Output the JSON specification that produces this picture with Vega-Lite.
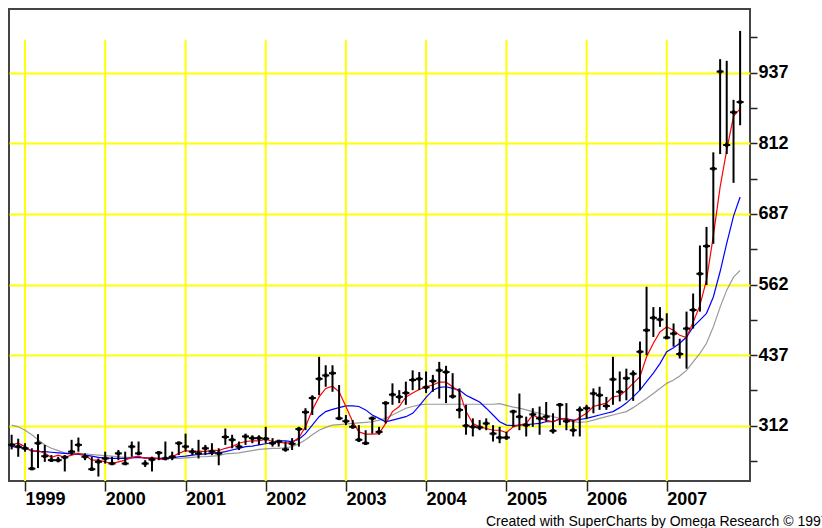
{
  "$schema": "https://vega.github.io/schema/vega-lite/v6.json",
  "width": 741,
  "height": 472,
  "autosize": "none",
  "padding": {"left": 9, "top": 9, "right": 72, "bottom": 47},
  "background": "white",
  "config": {
    "view": {"stroke": "#444444", "strokeWidth": 2},
    "font": "Liberation Sans"
  },
  "title": {"text": "Created with SuperCharts by Omega Research © 1997", "orient": "bottom", "anchor": "start", "frame": "group", "offset": 18, "dx": 477, "fontSize": 14, "fontWeight": "normal", "font": "Liberation Sans", "color": "#000000", "baseline": "alphabetic"},
  "datasets": {
    "years": [
      {"date": "1999-01-01"}, {"date": "2000-01-01"}, {"date": "2001-01-01"}, {"date": "2002-01-01"}, {"date": "2003-01-01"},
      {"date": "2004-01-01"}, {"date": "2005-01-01"}, {"date": "2006-01-01"}, {"date": "2007-01-01"}
    ],
    "bars": [
      {"date": "1998-11-01", "high": 296, "low": 270, "close": 278, "red": 278, "blue": 275, "gray": 313},
      {"date": "1998-12-01", "high": 289, "low": 257, "close": 275, "red": 281, "blue": 274, "gray": 310},
      {"date": "1999-01-01", "high": 281, "low": 266, "close": 272, "red": 275, "blue": 272, "gray": 304},
      {"date": "1999-02-01", "high": 272, "low": 234, "close": 236, "red": 266, "blue": 268, "gray": 296},
      {"date": "1999-03-01", "high": 297, "low": 237, "close": 281, "red": 268, "blue": 266, "gray": 287},
      {"date": "1999-04-01", "high": 278, "low": 248, "close": 258, "red": 263, "blue": 266, "gray": 278},
      {"date": "1999-05-01", "high": 260, "low": 248, "close": 251, "red": 256, "blue": 265, "gray": 272},
      {"date": "1999-06-01", "high": 257, "low": 247, "close": 251, "red": 260, "blue": 264, "gray": 268},
      {"date": "1999-07-01", "high": 260, "low": 231, "close": 256, "red": 256, "blue": 263, "gray": 264},
      {"date": "1999-08-01", "high": 287, "low": 260, "close": 266, "red": 260, "blue": 262, "gray": 263},
      {"date": "1999-09-01", "high": 291, "low": 266, "close": 278, "red": 263, "blue": 261, "gray": 263},
      {"date": "1999-10-01", "high": 263, "low": 251, "close": 257, "red": 260, "blue": 260, "gray": 262},
      {"date": "1999-11-01", "high": 257, "low": 234, "close": 235, "red": 251, "blue": 258, "gray": 261},
      {"date": "1999-12-01", "high": 254, "low": 222, "close": 248, "red": 251, "blue": 256, "gray": 260},
      {"date": "2000-01-01", "high": 266, "low": 245, "close": 254, "red": 248, "blue": 255, "gray": 259},
      {"date": "2000-02-01", "high": 257, "low": 243, "close": 245, "red": 245, "blue": 254, "gray": 258},
      {"date": "2000-03-01", "high": 269, "low": 251, "close": 263, "red": 248, "blue": 254, "gray": 257},
      {"date": "2000-04-01", "high": 266, "low": 243, "close": 245, "red": 251, "blue": 254, "gray": 256},
      {"date": "2000-05-01", "high": 284, "low": 257, "close": 275, "red": 256, "blue": 255, "gray": 256},
      {"date": "2000-06-01", "high": 284, "low": 260, "close": 263, "red": 258, "blue": 256, "gray": 256},
      {"date": "2000-07-01", "high": 251, "low": 239, "close": 245, "red": 254, "blue": 255, "gray": 255},
      {"date": "2000-08-01", "high": 257, "low": 231, "close": 252, "red": 256, "blue": 254, "gray": 254},
      {"date": "2000-09-01", "high": 266, "low": 251, "close": 264, "red": 253, "blue": 254, "gray": 254},
      {"date": "2000-10-01", "high": 284, "low": 251, "close": 254, "red": 253, "blue": 254, "gray": 254},
      {"date": "2000-11-01", "high": 266, "low": 251, "close": 257, "red": 257, "blue": 255, "gray": 254},
      {"date": "2000-12-01", "high": 284, "low": 260, "close": 281, "red": 263, "blue": 257, "gray": 254},
      {"date": "2001-01-01", "high": 298, "low": 266, "close": 275, "red": 268, "blue": 258, "gray": 255},
      {"date": "2001-02-01", "high": 272, "low": 260, "close": 266, "red": 266, "blue": 260, "gray": 256},
      {"date": "2001-03-01", "high": 287, "low": 254, "close": 263, "red": 267, "blue": 261, "gray": 257},
      {"date": "2001-04-01", "high": 278, "low": 260, "close": 272, "red": 266, "blue": 262, "gray": 257},
      {"date": "2001-05-01", "high": 281, "low": 260, "close": 266, "red": 269, "blue": 263, "gray": 258},
      {"date": "2001-06-01", "high": 272, "low": 242, "close": 263, "red": 268, "blue": 264, "gray": 259},
      {"date": "2001-07-01", "high": 307, "low": 278, "close": 292, "red": 272, "blue": 266, "gray": 262},
      {"date": "2001-08-01", "high": 296, "low": 272, "close": 287, "red": 275, "blue": 269, "gray": 263},
      {"date": "2001-09-01", "high": 284, "low": 269, "close": 275, "red": 281, "blue": 272, "gray": 264},
      {"date": "2001-10-01", "high": 298, "low": 278, "close": 293, "red": 284, "blue": 275, "gray": 266},
      {"date": "2001-11-01", "high": 295, "low": 281, "close": 290, "red": 285, "blue": 276, "gray": 268},
      {"date": "2001-12-01", "high": 295, "low": 278, "close": 290, "red": 285, "blue": 278, "gray": 270},
      {"date": "2002-01-01", "high": 310, "low": 281, "close": 289, "red": 288, "blue": 280, "gray": 271},
      {"date": "2002-02-01", "high": 290, "low": 275, "close": 281, "red": 284, "blue": 282, "gray": 272},
      {"date": "2002-03-01", "high": 287, "low": 275, "close": 284, "red": 283, "blue": 285, "gray": 272},
      {"date": "2002-04-01", "high": 284, "low": 266, "close": 270, "red": 281, "blue": 285, "gray": 273},
      {"date": "2002-05-01", "high": 290, "low": 269, "close": 280, "red": 282, "blue": 284, "gray": 275},
      {"date": "2002-06-01", "high": 310, "low": 275, "close": 306, "red": 291, "blue": 288, "gray": 280},
      {"date": "2002-07-01", "high": 343, "low": 304, "close": 336, "red": 310, "blue": 298, "gray": 287},
      {"date": "2002-08-01", "high": 366, "low": 331, "close": 361, "red": 340, "blue": 313, "gray": 296},
      {"date": "2002-09-01", "high": 434, "low": 366, "close": 395, "red": 363, "blue": 328, "gray": 304},
      {"date": "2002-10-01", "high": 419, "low": 381, "close": 401, "red": 378, "blue": 337, "gray": 309},
      {"date": "2002-11-01", "high": 419, "low": 372, "close": 405, "red": 382, "blue": 341, "gray": 313},
      {"date": "2002-12-01", "high": 384, "low": 322, "close": 325, "red": 372, "blue": 344, "gray": 314},
      {"date": "2003-01-01", "high": 331, "low": 313, "close": 320, "red": 346, "blue": 347, "gray": 315},
      {"date": "2003-02-01", "high": 322, "low": 307, "close": 310, "red": 319, "blue": 347, "gray": 316},
      {"date": "2003-03-01", "high": 313, "low": 283, "close": 287, "red": 301, "blue": 346, "gray": 317},
      {"date": "2003-04-01", "high": 304, "low": 278, "close": 281, "red": 297, "blue": 340, "gray": 318},
      {"date": "2003-05-01", "high": 328, "low": 298, "close": 325, "red": 297, "blue": 331, "gray": 319},
      {"date": "2003-06-01", "high": 310, "low": 296, "close": 301, "red": 298, "blue": 325, "gray": 322},
      {"date": "2003-07-01", "high": 355, "low": 316, "close": 352, "red": 316, "blue": 319, "gray": 325},
      {"date": "2003-08-01", "high": 387, "low": 349, "close": 367, "red": 337, "blue": 322, "gray": 331},
      {"date": "2003-09-01", "high": 375, "low": 352, "close": 363, "red": 346, "blue": 325, "gray": 337},
      {"date": "2003-10-01", "high": 390, "low": 349, "close": 370, "red": 363, "blue": 328, "gray": 343},
      {"date": "2003-11-01", "high": 410, "low": 375, "close": 393, "red": 370, "blue": 334, "gray": 346},
      {"date": "2003-12-01", "high": 407, "low": 375, "close": 395, "red": 376, "blue": 347, "gray": 349},
      {"date": "2004-01-01", "high": 408, "low": 370, "close": 380, "red": 381, "blue": 362, "gray": 350},
      {"date": "2004-02-01", "high": 402, "low": 372, "close": 391, "red": 384, "blue": 375, "gray": 350},
      {"date": "2004-03-01", "high": 425, "low": 360, "close": 410, "red": 389, "blue": 380, "gray": 350},
      {"date": "2004-04-01", "high": 418, "low": 352, "close": 407, "red": 389, "blue": 381, "gray": 350},
      {"date": "2004-05-01", "high": 405, "low": 360, "close": 364, "red": 381, "blue": 378, "gray": 350},
      {"date": "2004-06-01", "high": 378, "low": 325, "close": 340, "red": 372, "blue": 375, "gray": 350},
      {"date": "2004-07-01", "high": 349, "low": 296, "close": 312, "red": 337, "blue": 366, "gray": 350},
      {"date": "2004-08-01", "high": 325, "low": 293, "close": 310, "red": 316, "blue": 360, "gray": 350},
      {"date": "2004-09-01", "high": 322, "low": 304, "close": 309, "red": 310, "blue": 354, "gray": 350},
      {"date": "2004-10-01", "high": 325, "low": 304, "close": 316, "red": 307, "blue": 343, "gray": 350},
      {"date": "2004-11-01", "high": 313, "low": 284, "close": 298, "red": 304, "blue": 331, "gray": 350},
      {"date": "2004-12-01", "high": 310, "low": 281, "close": 291, "red": 304, "blue": 319, "gray": 351},
      {"date": "2005-01-01", "high": 301, "low": 287, "close": 291, "red": 300, "blue": 313, "gray": 348},
      {"date": "2005-02-01", "high": 340, "low": 310, "close": 337, "red": 310, "blue": 312, "gray": 345},
      {"date": "2005-03-01", "high": 369, "low": 304, "close": 328, "red": 313, "blue": 313, "gray": 343},
      {"date": "2005-04-01", "high": 328, "low": 293, "close": 313, "red": 316, "blue": 314, "gray": 340},
      {"date": "2005-05-01", "high": 343, "low": 310, "close": 332, "red": 331, "blue": 315, "gray": 337},
      {"date": "2005-06-01", "high": 346, "low": 296, "close": 325, "red": 325, "blue": 316, "gray": 334},
      {"date": "2005-07-01", "high": 354, "low": 319, "close": 328, "red": 322, "blue": 319, "gray": 331},
      {"date": "2005-08-01", "high": 334, "low": 298, "close": 303, "red": 319, "blue": 319, "gray": 328},
      {"date": "2005-09-01", "high": 352, "low": 313, "close": 349, "red": 324, "blue": 324, "gray": 325},
      {"date": "2005-10-01", "high": 352, "low": 304, "close": 320, "red": 325, "blue": 324, "gray": 322},
      {"date": "2005-11-01", "high": 322, "low": 293, "close": 304, "red": 319, "blue": 322, "gray": 319},
      {"date": "2005-12-01", "high": 346, "low": 293, "close": 340, "red": 327, "blue": 323, "gray": 318},
      {"date": "2006-01-01", "high": 349, "low": 325, "close": 343, "red": 334, "blue": 325, "gray": 319},
      {"date": "2006-02-01", "high": 378, "low": 334, "close": 369, "red": 346, "blue": 328, "gray": 322},
      {"date": "2006-03-01", "high": 381, "low": 340, "close": 366, "red": 349, "blue": 331, "gray": 325},
      {"date": "2006-04-01", "high": 363, "low": 340, "close": 347, "red": 352, "blue": 334, "gray": 328},
      {"date": "2006-05-01", "high": 434, "low": 349, "close": 394, "red": 363, "blue": 337, "gray": 331},
      {"date": "2006-06-01", "high": 408, "low": 355, "close": 372, "red": 365, "blue": 344, "gray": 334},
      {"date": "2006-07-01", "high": 413, "low": 357, "close": 396, "red": 375, "blue": 352, "gray": 337},
      {"date": "2006-08-01", "high": 410, "low": 356, "close": 404, "red": 387, "blue": 363, "gray": 344},
      {"date": "2006-09-01", "high": 461, "low": 375, "close": 443, "red": 399, "blue": 375, "gray": 352},
      {"date": "2006-10-01", "high": 558, "low": 437, "close": 481, "red": 434, "blue": 390, "gray": 360},
      {"date": "2006-11-01", "high": 522, "low": 469, "close": 503, "red": 458, "blue": 405, "gray": 369},
      {"date": "2006-12-01", "high": 522, "low": 487, "close": 500, "red": 478, "blue": 422, "gray": 378},
      {"date": "2007-01-01", "high": 511, "low": 466, "close": 468, "red": 487, "blue": 443, "gray": 387},
      {"date": "2007-02-01", "high": 493, "low": 452, "close": 475, "red": 481, "blue": 450, "gray": 393},
      {"date": "2007-03-01", "high": 466, "low": 431, "close": 439, "red": 472, "blue": 458, "gray": 400},
      {"date": "2007-04-01", "high": 514, "low": 413, "close": 484, "red": 468, "blue": 469, "gray": 410},
      {"date": "2007-05-01", "high": 546, "low": 484, "close": 517, "red": 495, "blue": 487, "gray": 425},
      {"date": "2007-06-01", "high": 631, "low": 514, "close": 581, "red": 525, "blue": 499, "gray": 440},
      {"date": "2007-07-01", "high": 664, "low": 561, "close": 630, "red": 570, "blue": 511, "gray": 458},
      {"date": "2007-08-01", "high": 796, "low": 634, "close": 767, "red": 648, "blue": 540, "gray": 487},
      {"date": "2007-09-01", "high": 961, "low": 793, "close": 939, "red": 735, "blue": 585, "gray": 522},
      {"date": "2007-10-01", "high": 958, "low": 793, "close": 809, "red": 800, "blue": 635, "gray": 552},
      {"date": "2007-11-01", "high": 889, "low": 742, "close": 867, "red": 860, "blue": 683, "gray": 575},
      {"date": "2007-12-01", "high": 1011, "low": 844, "close": 885, "red": 873, "blue": 717, "gray": 587}
    ]
  },
  "data": {"name": "bars"},
  "encoding": {
    "x": {
      "field": "date",
      "type": "temporal",
      "scale": {"type": "utc", "domain": [{"year": 1998, "month": 10, "date": 20, "utc": true}, {"year": 2008, "month": 1, "date": 15, "utc": true}]},
      "axis": {
        "values": [
          {"year": 1999, "month": 1, "date": 1, "utc": true}, {"year": 2000, "month": 1, "date": 1, "utc": true},
          {"year": 2001, "month": 1, "date": 1, "utc": true}, {"year": 2002, "month": 1, "date": 1, "utc": true},
          {"year": 2003, "month": 1, "date": 1, "utc": true}, {"year": 2004, "month": 1, "date": 1, "utc": true},
          {"year": 2005, "month": 1, "date": 1, "utc": true}, {"year": 2006, "month": 1, "date": 1, "utc": true},
          {"year": 2007, "month": 1, "date": 1, "utc": true}
        ],
        "format": "%Y",
        "formatType": "utc",
        "title": null,
        "grid": false,
        "domain": false,
        "tickSize": 10,
        "tickWidth": 1.5,
        "tickColor": "#222222",
        "labelAlign": "left",
        "labelBaseline": "alphabetic",
        "labelPadding": 13,
        "labelDx": 1,
        "labelFont": "Liberation Sans",
        "labelFontSize": 18,
        "labelFontWeight": "bold",
        "labelColor": "#000000",
        "labelOverlap": false,
        "labelFlush": false
      }
    }
  },
  "layer": [
    {
      "data": {"name": "years"},
      "mark": {"type": "rule", "color": "#ffff00", "strokeWidth": 2},
      "encoding": {
        "y": {"datum": 995, "type": "quantitative", "scale": {"domain": [214.1, 1049.8], "nice": false, "zero": false},
          "axis": {"orient": "right", "title": null, "values": [249.5, 312, 374.5, 437, 499.5, 562, 624.5, 687, 749.5, 812, 874.5, 937, 999.5], "labelExpr": "(datum.value - 312) % 125 == 0 ? format(datum.value, 'd') : ''", "grid": true, "gridColor": "#ffff00", "gridWidth": 2, "gridOpacity": {"condition": {"test": "(datum.value - 312) % 125 == 0", "value": 1}, "value": 0}, "domain": false, "tickSize": 7, "tickWidth": 1.5, "tickColor": "#222222", "labelPadding": 1, "labelAlign": "left", "labelBaseline": "middle", "labelFont": "Liberation Sans", "labelFontSize": 18, "labelFontWeight": "bold", "labelColor": "#000000", "labelOverlap": false, "labelFlush": false}},
        "y2": {"datum": 214.1}
      }
    },
    {
      "mark": {"type": "line", "color": "#999999", "strokeWidth": 1.2},
      "encoding": {"y": {"field": "gray", "type": "quantitative", "scale": {"domain": [214.1, 1049.8], "nice": false, "zero": false},
        "axis": {"orient": "right", "title": null, "values": [249.5, 312, 374.5, 437, 499.5, 562, 624.5, 687, 749.5, 812, 874.5, 937, 999.5], "labelExpr": "(datum.value - 312) % 125 == 0 ? format(datum.value, 'd') : ''", "grid": true, "gridColor": "#ffff00", "gridWidth": 2, "gridOpacity": {"condition": {"test": "(datum.value - 312) % 125 == 0", "value": 1}, "value": 0}, "domain": false, "tickSize": 7, "tickWidth": 1.5, "tickColor": "#222222", "labelPadding": 1, "labelAlign": "left", "labelBaseline": "middle", "labelFont": "Liberation Sans", "labelFontSize": 18, "labelFontWeight": "bold", "labelColor": "#000000", "labelOverlap": false, "labelFlush": false}}}
    },
    {
      "mark": {"type": "line", "color": "#0000ff", "strokeWidth": 1.2},
      "encoding": {"y": {"field": "blue", "type": "quantitative", "scale": {"domain": [214.1, 1049.8], "nice": false, "zero": false},
        "axis": {"orient": "right", "title": null, "values": [249.5, 312, 374.5, 437, 499.5, 562, 624.5, 687, 749.5, 812, 874.5, 937, 999.5], "labelExpr": "(datum.value - 312) % 125 == 0 ? format(datum.value, 'd') : ''", "grid": true, "gridColor": "#ffff00", "gridWidth": 2, "gridOpacity": {"condition": {"test": "(datum.value - 312) % 125 == 0", "value": 1}, "value": 0}, "domain": false, "tickSize": 7, "tickWidth": 1.5, "tickColor": "#222222", "labelPadding": 1, "labelAlign": "left", "labelBaseline": "middle", "labelFont": "Liberation Sans", "labelFontSize": 18, "labelFontWeight": "bold", "labelColor": "#000000", "labelOverlap": false, "labelFlush": false}}}
    },
    {
      "mark": {"type": "line", "color": "#ff0000", "strokeWidth": 1.2},
      "encoding": {"y": {"field": "red", "type": "quantitative", "scale": {"domain": [214.1, 1049.8], "nice": false, "zero": false},
        "axis": {"orient": "right", "title": null, "values": [249.5, 312, 374.5, 437, 499.5, 562, 624.5, 687, 749.5, 812, 874.5, 937, 999.5], "labelExpr": "(datum.value - 312) % 125 == 0 ? format(datum.value, 'd') : ''", "grid": true, "gridColor": "#ffff00", "gridWidth": 2, "gridOpacity": {"condition": {"test": "(datum.value - 312) % 125 == 0", "value": 1}, "value": 0}, "domain": false, "tickSize": 7, "tickWidth": 1.5, "tickColor": "#222222", "labelPadding": 1, "labelAlign": "left", "labelBaseline": "middle", "labelFont": "Liberation Sans", "labelFontSize": 18, "labelFontWeight": "bold", "labelColor": "#000000", "labelOverlap": false, "labelFlush": false}}}
    },
    {
      "mark": {"type": "rule", "color": "#000000", "strokeWidth": 2},
      "encoding": {
        "y": {"field": "low", "type": "quantitative", "scale": {"domain": [214.1, 1049.8], "nice": false, "zero": false},
          "axis": {"orient": "right", "title": null, "values": [249.5, 312, 374.5, 437, 499.5, 562, 624.5, 687, 749.5, 812, 874.5, 937, 999.5], "labelExpr": "(datum.value - 312) % 125 == 0 ? format(datum.value, 'd') : ''", "grid": true, "gridColor": "#ffff00", "gridWidth": 2, "gridOpacity": {"condition": {"test": "(datum.value - 312) % 125 == 0", "value": 1}, "value": 0}, "domain": false, "tickSize": 7, "tickWidth": 1.5, "tickColor": "#222222", "labelPadding": 1, "labelAlign": "left", "labelBaseline": "middle", "labelFont": "Liberation Sans", "labelFontSize": 18, "labelFontWeight": "bold", "labelColor": "#000000", "labelOverlap": false, "labelFlush": false}},
        "y2": {"field": "high"}
      }
    },
    {
      "mark": {"type": "tick", "orient": "horizontal", "size": 7, "thickness": 2, "color": "#000000", "opacity": 1},
      "encoding": {"y": {"field": "close", "type": "quantitative", "scale": {"domain": [214.1, 1049.8], "nice": false, "zero": false},
        "axis": {"orient": "right", "title": null, "values": [249.5, 312, 374.5, 437, 499.5, 562, 624.5, 687, 749.5, 812, 874.5, 937, 999.5], "labelExpr": "(datum.value - 312) % 125 == 0 ? format(datum.value, 'd') : ''", "grid": true, "gridColor": "#ffff00", "gridWidth": 2, "gridOpacity": {"condition": {"test": "(datum.value - 312) % 125 == 0", "value": 1}, "value": 0}, "domain": false, "tickSize": 7, "tickWidth": 1.5, "tickColor": "#222222", "labelPadding": 1, "labelAlign": "left", "labelBaseline": "middle", "labelFont": "Liberation Sans", "labelFontSize": 18, "labelFontWeight": "bold", "labelColor": "#000000", "labelOverlap": false, "labelFlush": false}}}
    },
    {
      "mark": {"type": "square", "size": 12, "color": "#000000", "filled": true, "opacity": 1},
      "encoding": {"y": {"field": "close", "type": "quantitative", "scale": {"domain": [214.1, 1049.8], "nice": false, "zero": false},
        "axis": {"orient": "right", "title": null, "values": [249.5, 312, 374.5, 437, 499.5, 562, 624.5, 687, 749.5, 812, 874.5, 937, 999.5], "labelExpr": "(datum.value - 312) % 125 == 0 ? format(datum.value, 'd') : ''", "grid": true, "gridColor": "#ffff00", "gridWidth": 2, "gridOpacity": {"condition": {"test": "(datum.value - 312) % 125 == 0", "value": 1}, "value": 0}, "domain": false, "tickSize": 7, "tickWidth": 1.5, "tickColor": "#222222", "labelPadding": 1, "labelAlign": "left", "labelBaseline": "middle", "labelFont": "Liberation Sans", "labelFontSize": 18, "labelFontWeight": "bold", "labelColor": "#000000", "labelOverlap": false, "labelFlush": false}}}
    }
  ]
}
